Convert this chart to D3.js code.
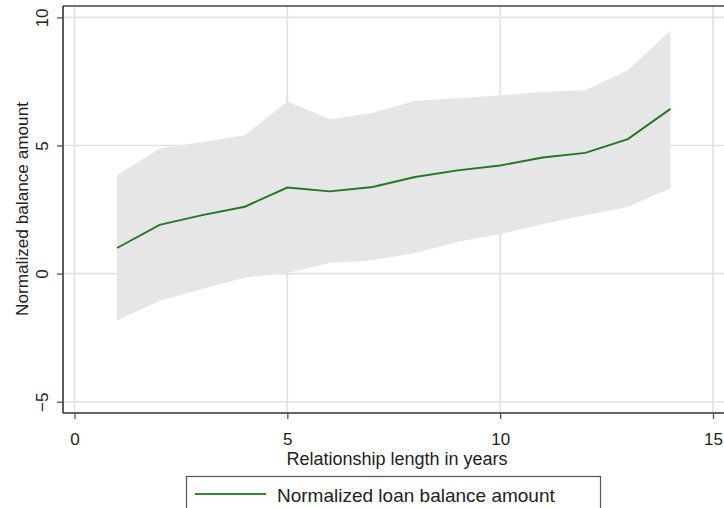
<!DOCTYPE html>
<html>
<head>
<meta charset="utf-8">
<script src="https://cdn.jsdelivr.net/npm/d3@7"></script>
<style>
  html, body { margin: 0; padding: 0; background: #fff; }
  svg { display: block; font-family: "Liberation Sans", Arial, sans-serif; }
</style>
</head>
<body>
<svg id="chart" width="724" height="508"></svg>
<script>
// Relationship length (years) and the estimated balance with its confidence band
const years    = [1, 2, 3, 4, 5, 6, 7, 8, 9, 10, 11, 12, 13, 14];
const estimate = [1.00, 1.90, 2.28, 2.61, 3.36, 3.21, 3.38, 3.77, 4.03, 4.22, 4.53, 4.71, 5.25, 6.43];
const upper    = [3.84, 4.88, 5.14, 5.40, 6.72, 6.02, 6.27, 6.75, 6.84, 6.96, 7.09, 7.16, 7.94, 9.48];
const lower    = [-1.82, -1.06, -0.60, -0.15, 0.02, 0.41, 0.52, 0.80, 1.24, 1.54, 1.94, 2.28, 2.60, 3.33];
const xTicks   = [0, 5, 10, 15];
const yTicks   = [-5, 0, 5, 10];

const svg = d3.select("#chart");
const plotLeft = 63, plotRight = 724, plotTop = 6, plotBottom = 413;

const x = d3.scaleLinear().domain([0, 15]).range([74.5, 713]);
const y = d3.scaleLinear().domain([-5, 10]).range([401.7, 17.4]);

// gridlines
svg.append("g").selectAll("line").data(xTicks).join("line")
  .attr("x1", d => x(d)).attr("x2", d => x(d))
  .attr("y1", plotTop).attr("y2", plotBottom)
  .attr("stroke", "#e1e1e1").attr("stroke-width", 1.6);
svg.append("g").selectAll("line").data(yTicks).join("line")
  .attr("x1", plotLeft).attr("x2", plotRight)
  .attr("y1", d => y(d)).attr("y2", d => y(d))
  .attr("stroke", "#e1e1e1").attr("stroke-width", 1.6);

// confidence band
const area = d3.area()
  .x((d, i) => x(years[i]))
  .y0((d, i) => y(lower[i]))
  .y1((d, i) => y(upper[i]));
svg.append("path").datum(years).attr("d", area).attr("fill", "#e6e6e6");

// estimate line
const line = d3.line().x((d, i) => x(years[i])).y(d => y(d));
svg.append("path").datum(estimate).attr("d", line)
  .attr("fill", "none").attr("stroke", "#1f7a1f").attr("stroke-width", 1.9);

// top frame
svg.append("line").attr("x1", plotLeft).attr("x2", plotRight).attr("y1", plotTop).attr("y2", plotTop)
  .attr("stroke", "#444").attr("stroke-width", 1.5);

// y axis with vertical tick labels
const yAxis = d3.axisLeft(y).tickValues(yTicks).tickSize(6);
const gy = svg.append("g").attr("transform", `translate(${plotLeft},0)`).call(yAxis);
gy.select(".domain").attr("d", `M0,${plotTop}V${plotBottom}`).attr("stroke", "#333").attr("stroke-width", 1.6);
gy.selectAll(".tick line").attr("stroke", "#555").attr("stroke-width", 1.3);
gy.selectAll(".tick text")
  .attr("font-size", 17).attr("fill", "#222")
  .attr("x", null).attr("dy", null)
  .attr("text-anchor", "middle")
  .attr("transform", "translate(-15,0) rotate(-90)");

// x axis
const xAxis = d3.axisBottom(x).tickValues(xTicks).tickSize(6).tickPadding(14);
const gx = svg.append("g").attr("transform", `translate(0,${plotBottom})`).call(xAxis);
gx.select(".domain").attr("d", `M${plotLeft},0H${plotRight}`).attr("stroke", "#333").attr("stroke-width", 1.6);
gx.selectAll(".tick line").attr("stroke", "#555").attr("stroke-width", 1.3);
gx.selectAll(".tick text").attr("font-size", 17).attr("fill", "#222");

// axis titles
svg.append("text").attr("x", 397).attr("y", 465).attr("text-anchor", "middle")
  .attr("font-size", 18).attr("fill", "#222").text("Relationship length in years");
svg.append("text").attr("transform", "translate(28,209) rotate(-90)").attr("text-anchor", "middle")
  .attr("font-size", 17.2).attr("fill", "#222").text("Normalized balance amount");

// legend
svg.append("rect").attr("x", 186.5).attr("y", 476.5).attr("width", 414).attr("height", 40)
  .attr("fill", "#fff").attr("stroke", "#555").attr("stroke-width", 1.2);
svg.append("line").attr("x1", 195).attr("x2", 266).attr("y1", 494).attr("y2", 494)
  .attr("stroke", "#2e8b2e").attr("stroke-width", 2);
svg.append("text").attr("x", 277).attr("y", 502).attr("font-size", 19).attr("fill", "#222")
  .text("Normalized loan balance amount");
</script>
</body>
</html>
